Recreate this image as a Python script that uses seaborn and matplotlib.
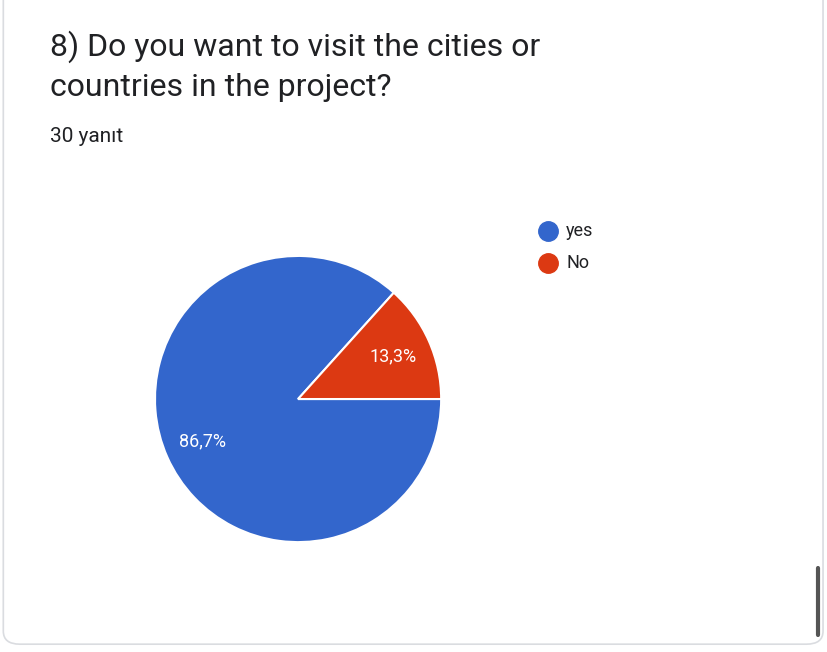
import matplotlib
matplotlib.use("Agg")
import matplotlib.pyplot as plt
import seaborn as sns
import numpy as np
from matplotlib.patches import FancyBboxPatch
from matplotlib.lines import Line2D

sns.set_theme(style="white")
plt.rcParams['font.family'] = ['Roboto', 'DejaVu Sans']

labels = ['yes', 'No']
counts = [26, 4]
pct_text = ['86,7%', '13,3%']
colors = ['#3366cc', '#dc3912']

fig = plt.figure(figsize=(8.28, 6.52), dpi=100)
fig.patch.set_facecolor('white')

# card border
card = FancyBboxPatch((0.004, 0.012), 0.99, 1.1, boxstyle="round,pad=0,rounding_size=0.02",
                      transform=fig.transFigure, facecolor='white', edgecolor='#dadce0',
                      lw=1.2, zorder=-10)
fig.patches.append(card)
# scrollbar
fig.add_artist(Line2D([818 / 828, 818 / 828], [1 - 568 / 652, 1 - 635 / 652],
                      transform=fig.transFigure, color='#555555', lw=3, solid_capstyle='round'))

fig.text(50 / 828, 1 - 30 / 652, "8) Do you want to visit the cities or\ncountries in the project?",
         fontsize=23, color='#202124', va='top', ha='left', linespacing=1.45)
fig.text(50 / 828, 1 - 137 / 652, "30 yanıt", fontsize=15, color='#202124', va='center', ha='left')

ax = fig.add_axes([0.36 - 0.216, 0.388 - 0.2745, 0.432, 0.549])
ax.patch.set_alpha(0)
wedges, _ = ax.pie(counts, colors=colors, startangle=0, counterclock=False,
                   wedgeprops=dict(edgecolor='white', linewidth=1.5))
ax.set_aspect('equal')

for w, t in zip(wedges, pct_text):
    ang = np.deg2rad((w.theta1 + w.theta2) / 2)
    ax.text(0.73 * np.cos(ang), 0.73 * np.sin(ang), t, color='white', fontsize=13,
            ha='center', va='center')

for i, (lab, c) in enumerate(zip(labels, colors)):
    y = 1 - (231 + 32 * i) / 652
    fig.add_artist(Line2D([548 / 828], [y], marker='o', markersize=14, color=c,
                          transform=fig.transFigure, linestyle='none'))
    fig.text(566 / 828, y, lab, fontsize=13, color='#202124', va='center', ha='left')

fig.savefig("out.png", dpi=100, facecolor='white')
